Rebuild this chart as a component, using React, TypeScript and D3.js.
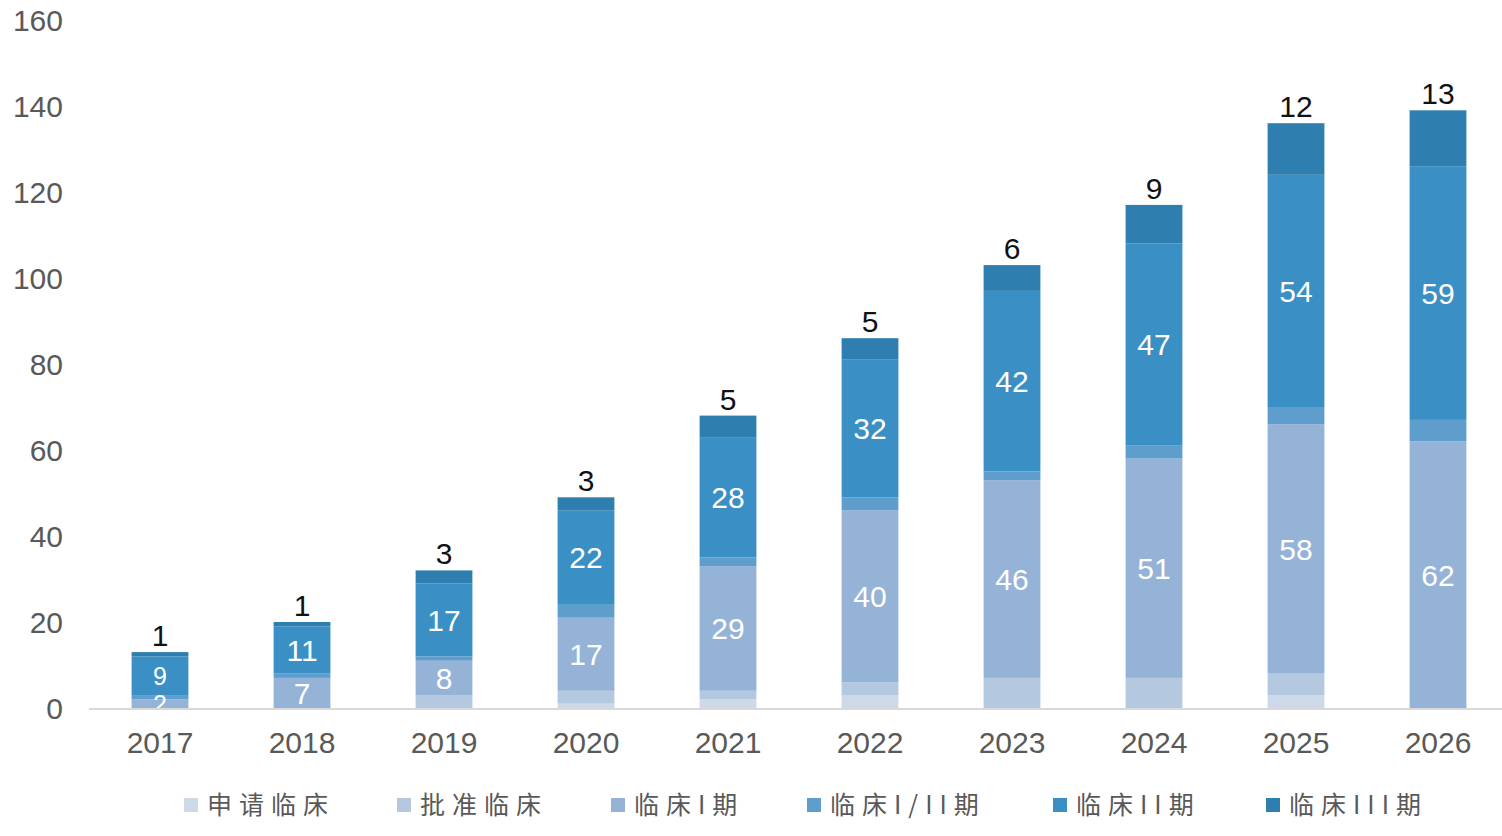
import * as d3 from "d3";
import { useEffect, useRef } from "react";

const years = ["2017", "2018", "2019", "2020", "2021", "2022", "2023", "2024", "2025", "2026"];
const seriesNames = ["申请临床", "批准临床", "临床I期", "临床I/II期", "临床II期", "临床III期"];
const legendLabels = ["申请临床", "批准临床", "临床I期", "临床I/II期", "临床II期", "临床III期"];
const colors = ["#cdd9e9", "#b4c8e0", "#95b3d7", "#5f9dcd", "#3a8fc4", "#2e7fb0"];

const apply = [0, 0, 0, 1, 2, 3, 0, 0, 3, 0];
const approve = [0, 0, 3, 3, 2, 3, 7, 7, 5, 0];
const phase1 = [2, 7, 8, 17, 29, 40, 46, 51, 58, 62];
const phase12 = [1, 1, 1, 3, 2, 3, 2, 3, 4, 5];
const phase2 = [9, 11, 17, 22, 28, 32, 42, 47, 54, 59];
const phase3 = [1, 1, 3, 3, 5, 5, 6, 9, 12, 13];
const yTicks = [0, 20, 40, 60, 80, 100, 120, 140, 160];

const W = 1502;
const H = 836;
const numFont = "'Liberation Sans', Arial, sans-serif";
const cjkFont = "'Noto Sans CJK SC', sans-serif";

export default function App() {
	const ref = useRef<SVGSVGElement | null>(null);

	useEffect(() => {
		if (!ref.current) return;
		const svg = d3.select(ref.current);
		svg.selectAll("*").remove();

		const rows = years.map((y, i) => ({
			year: y,
			[seriesNames[0]]: apply[i],
			[seriesNames[1]]: approve[i],
			[seriesNames[2]]: phase1[i],
			[seriesNames[3]]: phase12[i],
			[seriesNames[4]]: phase2[i],
			[seriesNames[5]]: phase3[i],
		}));

		const x = d3.scaleBand<string>().domain(years).range([89, 1509]).paddingInner(0.6).paddingOuter(0.3);
		const y = d3.scaleLinear().domain([0, 160]).range([708, 20]);

		const layers = d3.stack<any>().keys(seriesNames)(rows);
		const total = (d: any) => d3.sum(seriesNames, (k) => d.data[k]);

		svg.append("rect").attr("width", W).attr("height", H).attr("fill", "#ffffff");

		// y tick labels
		svg
			.append("g")
			.selectAll("text")
			.data(yTicks)
			.join("text")
			.attr("x", 63)
			.attr("y", (d) => y(d))
			.attr("dy", "0.36em")
			.attr("text-anchor", "end")
			.attr("font-family", numFont)
			.attr("font-size", 30)
			.attr("fill", "#595959")
			.text((d) => d);

		// bars
		const g = svg.append("g");
		layers.forEach((layer, li) => {
			g.append("g")
				.attr("fill", colors[li])
				.selectAll("rect")
				.data(layer)
				.join("rect")
				.attr("x", (d) => x(d.data.year)!)
				.attr("width", x.bandwidth())
				.attr("y", (d) => y(d[1]))
				.attr("height", (d) => y(d[0]) - y(d[1]));
		});

		// axis line
		svg
			.append("line")
			.attr("x1", 89)
			.attr("x2", 1502)
			.attr("y1", y(0) + 1)
			.attr("y2", y(0) + 1)
			.attr("stroke", "#d9d9d9")
			.attr("stroke-width", 2);

		// inside labels (phase I and phase II)
		[2, 4].forEach((li) => {
			g.append("g")
				.selectAll("text")
				.data(layers[li])
				.join("text")
				.attr("x", (d) => x(d.data.year)! + x.bandwidth() / 2)
				.attr("y", (d) => (y(d[0]) + y(d[1])) / 2)
				.attr("dy", "0.36em")
				.attr("text-anchor", "middle")
				.attr("font-family", numFont)
				.attr("font-size", (d) => (total(d) < 15 ? 25 : 30))
				.attr("fill", "#ffffff")
				.text((d) => d[1] - d[0]);
		});

		// top labels (phase III)
		g.append("g")
			.selectAll("text")
			.data(layers[5])
			.join("text")
			.attr("x", (d) => x(d.data.year)! + x.bandwidth() / 2)
			.attr("y", (d) => y(d[1]) - 6)
			.attr("text-anchor", "middle")
			.attr("font-family", numFont)
			.attr("font-size", 30)
			.attr("fill", "#111111")
			.text((d) => d[1] - d[0]);

		// x labels
		svg
			.append("g")
			.selectAll("text")
			.data(years)
			.join("text")
			.attr("x", (d) => x(d)! + x.bandwidth() / 2)
			.attr("y", 742)
			.attr("dy", "0.36em")
			.attr("text-anchor", "middle")
			.attr("font-family", numFont)
			.attr("font-size", 30)
			.attr("fill", "#595959")
			.text((d) => d);

		// legend
		const legendX = [184, 397, 611, 807, 1053, 1266];
		const leg = svg
			.append("g")
			.selectAll("g")
			.data(legendLabels)
			.join("g")
			.attr("transform", (_, i) => `translate(${legendX[i]},805)`);
		leg
			.append("rect")
			.attr("x", 0)
			.attr("y", -7)
			.attr("width", 14)
			.attr("height", 14)
			.attr("fill", (_, i) => colors[i]);
		leg
			.append("text")
			.attr("x", 23)
			.attr("dy", "0.36em")
			.attr("font-family", cjkFont)
			.attr("font-size", 25)
			.attr("letter-spacing", 7)
			.attr("fill", "#595959")
			.text((d) => d);
	}, []);

	return (
		<svg
			ref={ref}
			width={W}
			height={H}
			style={{ position: "absolute", left: 0, top: 0, display: "block" }}
		></svg>
	);
}
